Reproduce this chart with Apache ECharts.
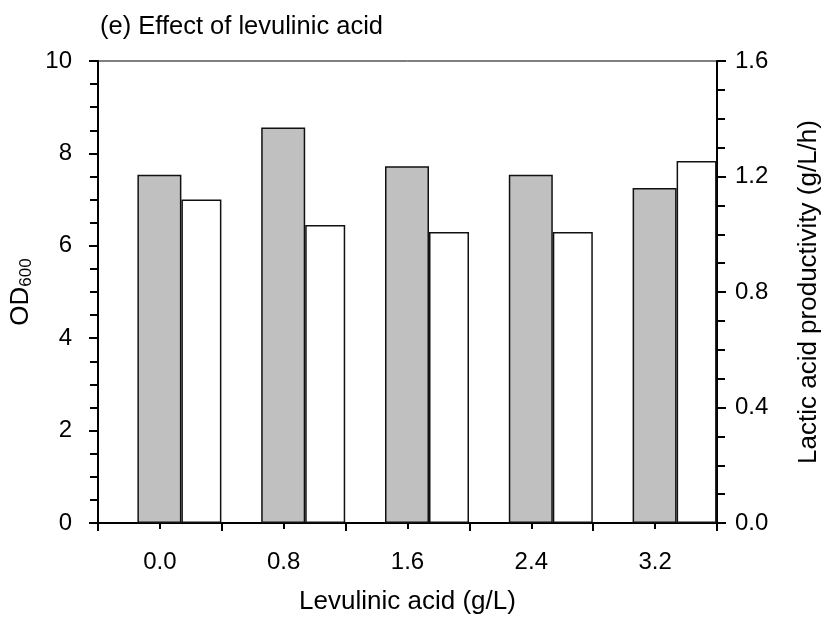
<!DOCTYPE html>
<html>
<head>
<meta charset="utf-8">
<script src="https://cdn.jsdelivr.net/npm/echarts@6/dist/echarts.min.js"></script>
<style>html,body{margin:0;padding:0;background:#fff;}#c{width:823px;height:621px;}</style>
</head>
<body>
<div id="c"></div>
<script>
var categories = ['0.0', '0.8', '1.6', '2.4', '3.2'];
var od600 = [7.54, 8.56, 7.72, 7.54, 7.25];
var productivity = [1.12, 1.032, 1.008, 1.008, 1.254];
var leftTicks = [0, 2, 4, 6, 8, 10];
var rightTicks = [0.0, 0.4, 0.8, 1.2, 1.6];

var FONT = 'Liberation Sans, Arial, sans-serif';
var chart = echarts.init(document.getElementById('c'), null, {renderer: 'canvas'});
var axisLine = {show: true, lineStyle: {color: '#000', width: 2}};
chart.setOption({
  animation: false,
  backgroundColor: '#fff',
  title: {
    text: '(e) Effect of levulinic acid',
    left: 95, top: 9,
    textStyle: {fontFamily: FONT, fontSize: 25.5, fontWeight: 'normal', color: '#000'}
  },
  grid: {left: 98, right: 106, top: 61, bottom: 98, containLabel: false, outerBoundsMode: 'none',
    show: true, borderColor: '#000', borderWidth: 1, backgroundColor: 'transparent'},
  xAxis: [{
    type: 'category', data: categories, position: 'bottom',
    axisLine: axisLine,
    axisTick: {show: true, inside: false, length: 8, alignWithLabel: false, lineStyle: {color: '#000', width: 2}},
    axisLabel: {margin: 27, fontFamily: FONT, fontSize: 24, color: '#000'},
    name: 'Levulinic acid (g/L)', nameLocation: 'middle', nameGap: 66,
    nameTextStyle: {fontFamily: FONT, fontSize: 26, color: '#000'},
    splitLine: {show: false}
  }, {
    type: 'category', data: categories, position: 'bottom',
    axisLine: {show: false},
    axisTick: {show: true, inside: false, length: 6, alignWithLabel: true, lineStyle: {color: '#000', width: 2}},
    axisLabel: {show: false},
    splitLine: {show: false}
  }],
  yAxis: [{
    type: 'value', min: 0, max: 10, interval: 2, position: 'left',
    axisLine: axisLine,
    axisTick: {show: true, length: 9, lineStyle: {color: '#000', width: 2}},
    minorTick: {show: true, splitNumber: 4, length: 8, lineStyle: {color: '#000', width: 2}},
    axisLabel: {margin: 26, fontFamily: FONT, fontSize: 24, color: '#000',
      formatter: function (v) { return leftTicks.indexOf(v) >= 0 ? String(v) : ''; }},
    splitLine: {show: false},
    name: '{a|OD}{b|600}', nameLocation: 'middle', nameGap: 58, nameRotate: 90,
    nameTextStyle: {fontFamily: FONT, fontSize: 26, color: '#000',
      rich: {a: {fontFamily: FONT, fontSize: 26, color: '#000'}, b: {fontFamily: FONT, fontSize: 17, color: '#000', verticalAlign: 'bottom', padding: [10, 0, 0, 0]}}}
  }, {
    type: 'value', min: 0, max: 1.6, interval: 0.4, position: 'right',
    axisLine: axisLine,
    axisTick: {show: true, length: 9, lineStyle: {color: '#000', width: 2}},
    minorTick: {show: true, splitNumber: 4, length: 8, lineStyle: {color: '#000', width: 2}},
    axisLabel: {margin: 18, fontFamily: FONT, fontSize: 24, color: '#000',
      formatter: function (v) { return v.toFixed(1); }},
    splitLine: {show: false},
    name: 'Lactic acid productivity (g/L/h)', nameLocation: 'middle', nameGap: 79, nameRotate: 90,
    nameTextStyle: {fontFamily: FONT, fontSize: 26, color: '#000'}
  }],
  series: [{
    name: 'spacer', type: 'bar', xAxisIndex: 0, yAxisIndex: 0,
    data: categories.map(function () { return '-'; }),
    barWidth: 39, barGap: '0%', silent: true,
    itemStyle: {color: 'transparent'}
  }, {
    name: 'OD600', type: 'bar', xAxisIndex: 0, yAxisIndex: 0,
    data: od600, barWidth: 44, barGap: '0%',
    itemStyle: {color: '#c0c0c0', borderColor: '#111', borderWidth: 1.5}
  }, {
    name: 'Productivity', type: 'bar', xAxisIndex: 0, yAxisIndex: 1,
    data: productivity, barWidth: 40, barGap: '0%',
    itemStyle: {color: '#fff', borderColor: '#111', borderWidth: 1.5}
  }]
});
</script>
</body>
</html>
